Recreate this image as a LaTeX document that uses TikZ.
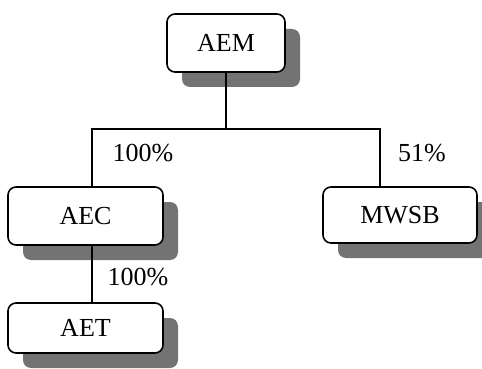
\documentclass[tikz,border=0pt]{standalone}
\usepackage{fontspec}
\setmainfont{Liberation Serif}
\usetikzlibrary{shapes,calc,shadows,positioning}

\begin{document}
\begin{tikzpicture}[x=0.5pt,y=-0.5pt,
	firm/.style={rectangle, draw, line width=0.8pt, rounded corners=4pt, fill=white,
		font=\fontsize{13}{15}\selectfont, inner sep=0pt,
		drop shadow={shadow xshift=7.5pt, shadow yshift=-7.5pt, fill=black!55, opacity=1}},
	share/.style={font=\fontsize{13}{15}\selectfont, inner sep=0pt}]

	\useasboundingbox (0,0) rectangle (482,369);

	\node[firm, minimum width=59pt, minimum height=29pt] (AEM) at (226,43) {AEM};
	\node[firm, minimum width=77.5pt, minimum height=29pt] (AEC) at (85.5,216) {AEC};
	\node[firm, minimum width=77pt, minimum height=28pt] (MWSB) at (400,215) {MWSB};
	\node[firm, minimum width=77.5pt, minimum height=25pt] (AET) at (85.5,328) {AET};

	\coordinate (busL) at (92,129);
	\coordinate (busR) at (380,129);

	\draw[line width=0.75pt] (AEM.south) -- (AEM.south |- busL);
	\draw[line width=0.75pt] (AEC.north -| busL) -- (busL) -- (busR) -- (MWSB.north -| busR);
	\draw[line width=0.75pt] (AEC.south -| busL) -- (AET.north -| busL);

	\node[share] (s1) at (143,153) {100\%};
	\node[share] (s2) at (422,153) {51\%};
	\node[share] (s3) at (138,277) {100\%};
\end{tikzpicture}
\end{document}
